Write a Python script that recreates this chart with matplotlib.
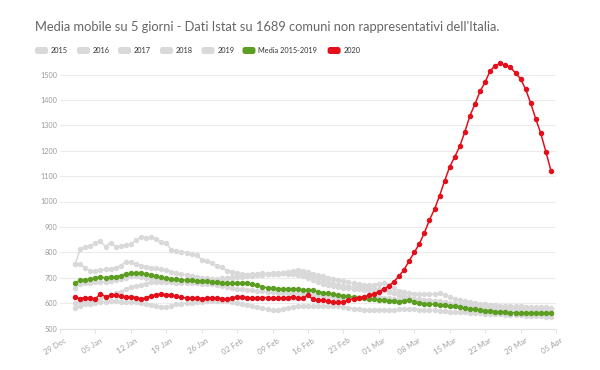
import matplotlib
matplotlib.use("Agg")
import matplotlib.pyplot as plt
import matplotlib.dates as mdates
import matplotlib.transforms as mtransforms
from matplotlib.patches import FancyBboxPatch
import pandas as pd

plt.rcParams['font.family'] = ['Lato', 'DejaVu Sans']

TITLE = "Media mobile su 5 giorni - Dati Istat su 1689 comuni non rappresentativi dell'Italia."

dates = pd.date_range("2020-01-01", "2020-04-04", freq="D")

y2015 = [753, 813, 822, 826, 835, 844, 822, 838, 822, 826,
         828, 831, 848, 859, 855, 859, 851, 839, 835, 811,
         805, 802, 798, 793, 790, 770, 766, 759, 746, 743,
         727, 723, 718, 714, 712, 711, 712, 714, 716, 718,
         720, 718, 716, 718, 720, 718, 712, 705, 698, 690,
         683, 677, 672, 668, 666, 664, 662, 660, 658, 656,
         654, 650, 645, 638, 630, 625, 620, 618, 616, 614,
         612, 610, 607, 604, 601, 598, 596, 594, 592, 590,
         588, 587, 586, 585, 584, 583, 582, 581, 580, 579,
         578, 578, 577, 577, 576]

y2016 = [755, 752, 737, 728, 728, 730, 733, 736, 740, 748,
         762, 762, 752, 748, 744, 740, 737, 735, 730, 722,
         718, 715, 712, 708, 704, 700, 698, 696, 695, 697,
         700, 704, 706, 708, 710, 713, 716, 718, 716, 714,
         715, 718, 722, 726, 730, 728, 722, 716, 710, 705,
         700, 695, 690, 686, 682, 678, 674, 672, 670, 672,
         676, 680, 672, 660, 648, 642, 639, 637, 636, 635,
         634, 636, 638, 632, 625, 618, 612, 608, 604, 600,
         598, 596, 594, 592, 590, 589, 588, 588, 587, 586,
         585, 584, 584, 583, 582]

y2017 = [658, 675, 680, 680, 682, 683, 684, 686, 690, 695,
         700, 705, 705, 703, 700, 698, 695, 692, 690, 688,
         686, 685, 684, 684, 685, 686, 688, 690, 692, 695,
         698, 700, 702, 704, 706, 708, 710, 712, 714, 715,
         716, 717, 716, 714, 710, 705, 698, 690, 682, 676,
         670, 666, 662, 660, 658, 656, 654, 652, 650, 650,
         651, 652, 648, 640, 632, 626, 622, 618, 614, 610,
         606, 602, 598, 595, 592, 589, 586, 583, 580, 578,
         576, 574, 572, 570, 569, 568, 567, 566, 565, 564,
         564, 563, 563, 562, 562]

y2018 = [602, 605, 608, 610, 612, 618, 625, 632, 638, 645,
         655, 662, 667, 671, 677, 682, 683, 683, 682, 682,
         681, 680, 680, 679, 678, 677, 676, 675, 672, 668,
         664, 660, 657, 655, 652, 650, 648, 646, 644, 642,
         641, 640, 640, 639, 638, 636, 634, 632, 630, 628,
         626, 624, 622, 622, 622, 622, 623, 624, 625, 625,
         624, 622, 620, 618, 616, 614, 612, 610, 608, 606,
         604, 602, 600, 598, 596, 594, 592, 590, 588, 586,
         584, 582, 580, 578, 577, 576, 575, 574, 573, 572,
         571, 570, 570, 569, 569]

y2019 = [582, 590, 595, 598, 600, 604, 606, 607, 607, 606,
         605, 604, 603, 601, 598, 594, 590, 586, 585, 588,
         595, 598, 600, 602, 604, 606, 608, 609, 610, 610,
         609, 606, 602, 598, 594, 590, 585, 580, 576, 573,
         574, 578, 582, 586, 589, 590, 590, 590, 590, 589,
         589, 589, 588, 586, 582, 578, 575, 573, 573, 573,
         573, 573, 573, 574, 575, 576, 576, 575, 574, 573,
         572, 571, 570, 568, 566, 565, 564, 563, 562, 561,
         560, 559, 558, 557, 556, 555, 554, 553, 552, 551,
         550, 549, 548, 547, 546]

media = [678, 691, 691, 695, 698, 704, 698, 704, 704, 708,
         715, 717, 717, 717, 715, 711, 707, 702, 698, 695,
         694, 691, 691, 689, 688, 687, 686, 684, 682, 681,
         680, 679, 679, 678, 678, 675, 670, 664, 660, 658,
         657, 656, 655, 655, 654, 653, 652, 650, 645, 641,
         638, 635, 632, 629, 626, 623, 621, 619, 617, 615,
         613, 612, 610, 608, 606, 610, 612, 605, 600, 598,
         596, 595, 593, 591, 589, 587, 584, 580, 577, 575,
         572, 570, 568, 566, 565, 563, 562, 562, 561, 561,
         560, 560, 560, 560, 560]

y2020 = [623, 618, 622, 619, 617, 637, 625, 630, 630, 628,
         625, 625, 622, 617, 620, 629, 633, 636, 633, 631,
         628, 623, 619, 620, 620, 618, 620, 620, 620, 618,
         617, 620, 625, 625, 622, 620, 620, 622, 622, 620,
         620, 620, 622, 625, 620, 622, 630, 615, 612, 612,
         608, 605, 603, 605, 612, 618, 622, 625, 630, 637,
         645, 655, 668, 685, 707, 732, 767, 800, 833, 877,
         927, 970, 1023, 1081, 1137, 1176, 1218, 1275, 1338, 1384,
         1434, 1470, 1515, 1535, 1544, 1537, 1528, 1506, 1483, 1442,
         1387, 1325, 1268, 1196, 1121]

grey_series = [("2015", y2015), ("2016", y2016), ("2017", y2017),
               ("2018", y2018), ("2019", y2019)]
yticks = list(range(500, 1600, 100))
xtick_start, xtick_end = "2019-12-29", "2020-04-05"

GREY = "#d9d9d9"
GREEN = "#5c9e22"
RED = "#e3101b"

W, H = 600, 370
fig = plt.figure(figsize=(6, 3.7), dpi=100)
fig.patch.set_facecolor("white")
ax = fig.add_axes([60 / W, 1 - 328.5 / H, (556 - 60) / W, (328.5 - 60) / H])

for name, vals in grey_series:
    ax.plot(dates, vals, color=GREY, lw=1.1, marker="o", ms=2.9,
            mec=GREY, mfc=GREY, zorder=2, clip_on=False)
ax.plot(dates, media, color=GREEN, lw=1.1, marker="o", ms=2.9,
        zorder=3, clip_on=False)
ax.plot(dates, y2020, color=RED, lw=1.1, marker="o", ms=2.9,
        zorder=4, clip_on=False)

ax.set_xlim(pd.Timestamp(xtick_start), pd.Timestamp(xtick_end))
ax.set_ylim(500, 500 + (328.5 - 60) / 0.254)
ax.set_yticks(yticks)
ax.set_yticklabels([str(v) for v in yticks])
xt = pd.date_range(xtick_start, xtick_end, freq="7D")
ax.set_xticks(xt)
ax.set_xticklabels([d.strftime("%d %b") for d in xt])

ax.grid(axis="y", color="#ebebeb", lw=0.8)
ax.set_axisbelow(True)
for s in ["top", "right", "left"]:
    ax.spines[s].set_visible(False)
ax.spines["bottom"].set_color("#e3e3e3")
ax.spines["bottom"].set_linewidth(0.8)
ax.tick_params(axis="y", length=0, pad=2, labelsize=5.2, labelcolor="#9a9a9a")
ax.tick_params(axis="x", length=3, color="#e3e3e3", pad=3, labelsize=5.6,
               labelcolor="#a0a0a0")
offset = mtransforms.ScaledTranslation(4 / 100, 0, fig.dpi_scale_trans)
for lab in ax.get_xticklabels():
    lab.set_rotation(32)
    lab.set_ha("right")
    lab.set_va("top")
    lab.set_rotation_mode("anchor")
    lab.set_transform(lab.get_transform() + offset)

# title (auto-fit to the reference width)
t = fig.text(35 / W, 1 - 27 / H, TITLE, fontsize=10, color="#666666",
             va="center", ha="left")
fig.canvas.draw()
w = t.get_window_extent().width
t.set_fontsize(10 * 467 / w)

# legend
leg_items = [("2015", GREY, 35), ("2016", GREY, 77), ("2017", GREY, 118),
             ("2018", GREY, 160), ("2019", GREY, 201.5),
             ("Media 2015-2019", GREEN, 242.5), ("2020", RED, 327.6)]
ly = 50.5
fs = 6.3
tmp = fig.text(0, 0, "Media 2015-2019", fontsize=fs)
fig.canvas.draw()
fs = fs * 59 / tmp.get_window_extent().width
tmp.remove()
for label, col, x0 in leg_items:
    p = FancyBboxPatch((x0, H - ly - 3.5), 13, 7,
                       boxstyle="round,pad=0,rounding_size=2.5",
                       transform=mtransforms.IdentityTransform(),
                       facecolor=col, edgecolor="none")
    fig.patches.append(p)
    fig.text((x0 + 16) / W, 1 - ly / H, label, fontsize=fs, color="#333333",
             va="center", ha="left")

fig.savefig("out.png", dpi=100, facecolor="white")
